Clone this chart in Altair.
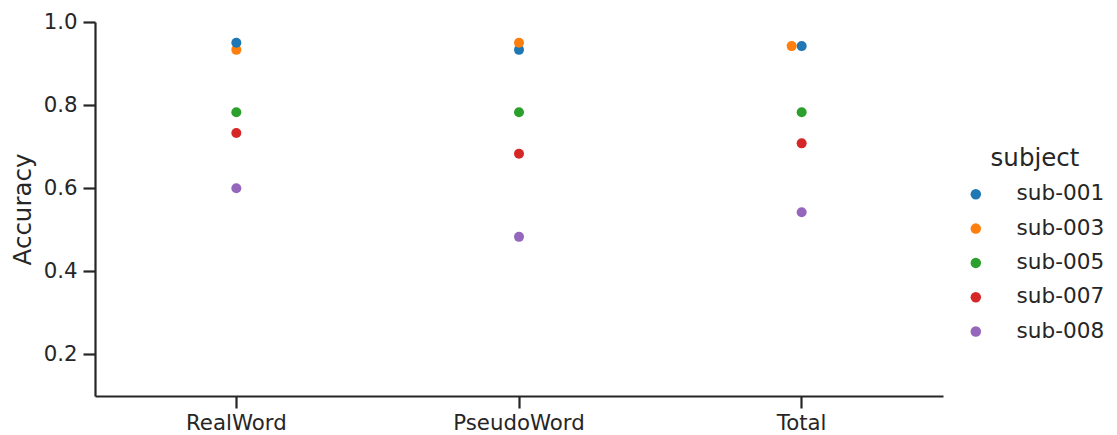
import altair as alt
import pandas as pd

categories = ["RealWord", "PseudoWord", "Total"]
subjects = ["sub-001", "sub-003", "sub-005", "sub-007", "sub-008"]
real_word = [0.950, 0.933, 0.783, 0.733, 0.600]
pseudo_word = [0.933, 0.950, 0.783, 0.683, 0.483]
total = [0.942, 0.942, 0.783, 0.708, 0.542]
# swarm slot (side-step index) for each point, per category
real_slot = [0, 0, 0, 0, 0]
pseudo_slot = [0, 0, 0, 0, 0]
total_slot = [0, -1, 0, 0, 0]
colors = ["#1f77b4", "#ff7f0e", "#2ca02c", "#d62728", "#9467bd"]

rows = []
for cat, vals, slots in zip(categories, [real_word, pseudo_word, total],
                            [real_slot, pseudo_slot, total_slot]):
    for s, v, sl in zip(subjects, vals, slots):
        rows.append({"condition": cat, "subject": s, "Accuracy": v, "slot": sl})
df = pd.DataFrame(rows)

FONT = "DejaVu Sans"
TXT = "#262626"
W, H = 848, 374
half_band = W / len(categories) / 2

chart = alt.Chart(df).mark_circle(size=100, opacity=1).encode(
    x=alt.X("condition:N", sort=categories, title=None,
            scale=alt.Scale(paddingInner=0, paddingOuter=0),
            axis=alt.Axis(labelAngle=0, labelFontSize=21.3, labelFont=FONT,
                          labelColor=TXT, domainColor=TXT, domainWidth=2.2,
                          tickColor=TXT, tickWidth=2.2, tickSize=12,
                          labelPadding=4, grid=False)),
    xOffset=alt.XOffset("slot:Q", scale=alt.Scale(domain=[-1, 1],
                                                  range=[half_band - 10, half_band + 10])),
    y=alt.Y("Accuracy:Q", scale=alt.Scale(domain=[0.1, 1.0], nice=False, zero=False),
            axis=alt.Axis(values=[0.2, 0.4, 0.6, 0.8, 1.0], format=".1f",
                          labelFontSize=21.3, labelFont=FONT, labelColor=TXT,
                          titleFontSize=24.5, titleFont=FONT, titleColor=TXT,
                          titleFontWeight="normal", titlePadding=8,
                          domainColor=TXT, domainWidth=2.2, tickColor=TXT,
                          tickWidth=2.2, tickSize=12, labelPadding=6, grid=False)),
    color=alt.Color("subject:N", sort=subjects,
                    scale=alt.Scale(domain=subjects, range=colors),
                    legend=alt.Legend(title="subject", orient="none",
                                      legendX=870, legendY=125,
                                      titleFontSize=24.5, titleFont=FONT,
                                      titleColor=TXT, titleFontWeight="normal",
                                      titleAnchor="middle", titlePadding=12,
                                      labelFontSize=21.6, labelFont=FONT,
                                      labelColor=TXT, labelOffset=30,
                                      symbolType="circle", symbolSize=110,
                                      symbolStrokeWidth=0, rowPadding=11.3,
                                      padding=0)),
    order=alt.Order("Accuracy:Q", sort="ascending"),
).properties(
    width=W, height=H,
    autosize=alt.AutoSizeParams(type="none"),
    padding={"left": 87, "top": 14, "right": 166, "bottom": 37},
).configure_view(stroke=None)

chart.save("out.html", embed_options={"renderer": "svg", "actions": False})
